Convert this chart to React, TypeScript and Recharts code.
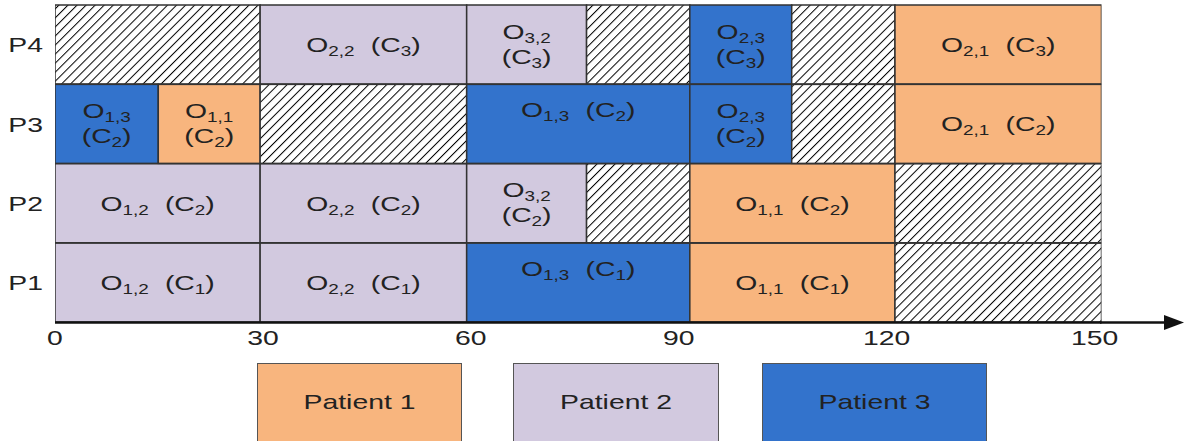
import React from 'react';
import { BarChart, Bar, XAxis, YAxis, Legend } from 'recharts';

// rows top to bottom
const rowNames = ['P4', 'P3', 'P2', 'P1'];
const timeTicks = [0, 30, 60, 90, 120, 150];
const patientNames = ['Patient 1', 'Patient 2', 'Patient 3'];

// [start, end, operation "i,j" (j = patient), cell]; no operation = idle
type Task = [number, number, string?, string?];

const tasksP4: Task[] = [
  [0, 29.6],
  [29.6, 59.4, '2,2', '3'],
  [59.4, 76.7, '3,2', '3'],
  [76.7, 91.6],
  [91.6, 106.3, '2,3', '3'],
  [106.3, 121.2],
  [121.2, 151, '2,1', '3'],
];
const tasksP3: Task[] = [
  [0, 14.9, '1,3', '2'],
  [14.9, 29.6, '1,1', '2'],
  [29.6, 59.4],
  [59.4, 91.6, '1,3', '2'],
  [91.6, 106.3, '2,3', '2'],
  [106.3, 121.2],
  [121.2, 151, '2,1', '2'],
];
const tasksP2: Task[] = [
  [0, 29.6, '1,2', '2'],
  [29.6, 59.4, '2,2', '2'],
  [59.4, 76.7, '3,2', '2'],
  [76.7, 91.6],
  [91.6, 121.2, '1,1', '2'],
  [121.2, 151],
];
const tasksP1: Task[] = [
  [0, 29.6, '1,2', '1'],
  [29.6, 59.4, '2,2', '1'],
  [59.4, 91.6, '1,3', '1'],
  [91.6, 121.2, '1,1', '1'],
  [121.2, 151],
];

const schedule = [tasksP4, tasksP3, tasksP2, tasksP1];
const SEGS = 7;

const COLORS = ['#F8B57E', '#D2C9DF', '#3373CC'];
const FONT = '"Liberation Sans", Arial, sans-serif';
const TEXT = '#222';
const STRETCH = 1.35;

const data = rowNames.map((row, r) => {
  const item: any = { row };
  for (let i = 0; i < SEGS; i++) {
    const t = schedule[r][i];
    item['d' + i] = t ? t[1] - t[0] : 0;
    item['t' + i] = t;
  }
  return item;
});

const opLine = (op: string) => (
  <>
    <tspan>O</tspan>
    <tspan fontSize={14} dy={4}>{op}</tspan>
  </>
);

const cellLine = (c: string, gap = 0) => (
  <>
    <tspan dx={gap} dy={gap ? -4 : 0}>(C</tspan>
    <tspan fontSize={14} dy={4}>{c}</tspan>
    <tspan dy={-4}>)</tspan>
  </>
);

const StretchText = ({ x, y, children }: any) => (
  <g transform={`translate(${x},${y}) scale(${STRETCH},1)`}>
    <text textAnchor="middle" fontSize={21} fill={TEXT} fontFamily={FONT}>
      {children}
    </text>
  </g>
);

function Segment(props: any) {
  const { x, y, width, height, payload, segIndex } = props;
  const t: Task | undefined = payload && payload['t' + segIndex];
  if (!t || !width) return null;
  const op = t[2];
  const patient = op ? Number(op.split(',')[1]) : 0;
  const fill = patient ? COLORS[patient - 1] : 'url(#hatch)';
  const cx = x + width / 2;
  const cy = y + height / 2;
  let label = null;
  if (op) {
    if (width < 130) {
      label = (
        <>
          <StretchText x={cx} y={cy - 6}>{opLine(op)}</StretchText>
          <StretchText x={cx} y={cy + 19}>{cellLine(t[3] as string)}</StretchText>
        </>
      );
    } else {
      const base = patient === 3 ? cy - 6.5 : cy + 7.5;
      label = (
        <StretchText x={cx} y={base}>
          {opLine(op)}
          {cellLine(t[3] as string, 12)}
        </StretchText>
      );
    }
  }
  return (
    <g>
      <rect x={x} y={y} width={width} height={height} fill={fill} stroke="#333" strokeWidth={1.5} />
      {label}
    </g>
  );
}

const TimeTick = ({ x, y, payload }: any) => (
  <g transform={`translate(${x},${y}) scale(${STRETCH},1)`}>
    <text textAnchor="middle" dy="0.71em" fontSize={21} fill={TEXT} fontFamily={FONT}>
      {payload.value}
    </text>
  </g>
);

const RowTick = ({ x, y, payload }: any) => (
  <g transform={`translate(${x},${y}) scale(${STRETCH},1)`}>
    <text textAnchor="end" dy="0.36em" fontSize={21} fill={TEXT} fontFamily={FONT}>
      {payload.value}
    </text>
  </g>
);

const legendLayout = [
  { left: 257, width: 205 },
  { left: 513, width: 206 },
  { left: 762, width: 225 },
];

const renderLegend = () => (
  <div style={{ position: 'relative', width: 1184, height: 80 }}>
    {patientNames.map((name, i) => (
      <div
        key={name}
        style={{
          position: 'absolute',
          left: legendLayout[i].left,
          top: 0,
          width: legendLayout[i].width,
          height: 80,
          boxSizing: 'border-box',
          background: COLORS[i],
          border: '1.5px solid #555',
        }}
      >
        <div
          style={{
            position: 'absolute',
            left: 0,
            right: 0,
            top: 26,
            textAlign: 'center',
            fontFamily: FONT,
            fontSize: 21,
            lineHeight: '24px',
            color: TEXT,
            transform: `scaleX(${STRETCH})`,
          }}
        >
          {name}
        </div>
      </div>
    ))}
  </div>
);

export default function App() {
  return (
    <div style={{ position: 'absolute', left: 0, top: 0, width: 1184, height: 441, overflow: 'hidden', background: '#fff' }}>
      <svg width={0} height={0} style={{ position: 'absolute' }}>
        <defs>
          <pattern id="hatch" width={6.4} height={6.4} patternUnits="userSpaceOnUse" patternTransform="rotate(45)">
            <rect width={6.4} height={6.4} fill="#fff" />
            <line x1={0} y1={0} x2={0} y2={6.4} stroke="#000" strokeWidth={2} />
          </pattern>
        </defs>
      </svg>
      <BarChart
        width={1184}
        height={441}
        data={data}
        layout="vertical"
        margin={{ top: 5, right: 82.5, bottom: 88.5, left: 0 }}
        barCategoryGap={0}
        barGap={0}
      >
        <XAxis
          type="number"
          domain={[0, 151]}
          ticks={timeTicks}
          height={30}
          tickSize={0}
          tickMargin={8}
          tick={<TimeTick />}
          axisLine={{ stroke: '#111', strokeWidth: 2.5 }}
          allowDataOverflow
        />
        <YAxis
          type="category"
          dataKey="row"
          width={55}
          tickSize={0}
          tickMargin={12}
          tick={<RowTick />}
          axisLine={false}
        />
        {Array.from({ length: SEGS }, (_, i) => (
          <Bar
            key={i}
            dataKey={'d' + i}
            stackId="s"
            isAnimationActive={false}
            shape={(p: any) => <Segment {...p} segIndex={i} />}
          />
        ))}
        <Legend
          layout="horizontal"
          verticalAlign="middle"
          align="center"
          wrapperStyle={{ top: 363, left: 0, width: 1184 }}
          content={renderLegend}
        />
      </BarChart>
      <svg width={1184} height={441} style={{ position: 'absolute', left: 0, top: 0, pointerEvents: 'none' }}>
        <line x1={1100} y1={322.5} x2={1168} y2={322.5} stroke="#111" strokeWidth={2.5} />
        <polygon points="1164,315 1184,322.5 1164,330" fill="#111" />
      </svg>
    </div>
  );
}
